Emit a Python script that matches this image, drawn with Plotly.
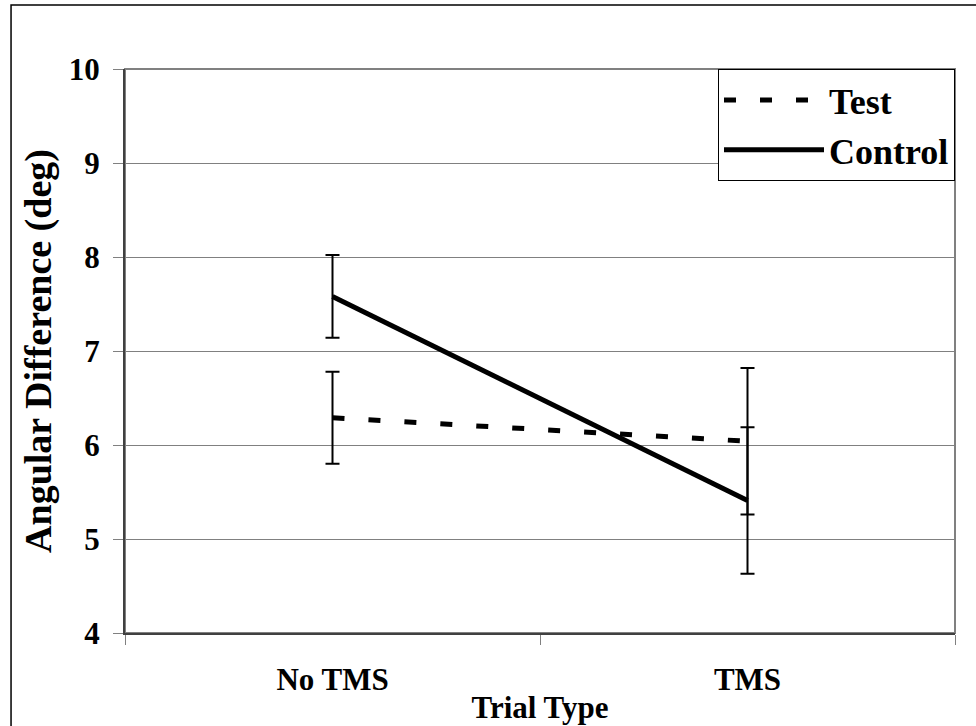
import plotly.graph_objects as go

# Trial conditions and group means (deg) with their error-bar half-widths
categories = ["No TMS", "TMS"]
test_mean = [6.29, 6.04]
test_err = [0.49, 0.78]
control_mean = [7.58, 5.41]
control_err = [0.44, 0.78]
y_ticks = [4, 5, 6, 7, 8, 9, 10]

FONT = "Liberation Serif"

fig = go.Figure()

fig.add_trace(go.Scatter(
    x=categories, y=test_mean, name="Test", mode="lines",
    line=dict(color="black", width=5, dash="12px,24px"),
    error_y=dict(type="data", array=test_err, visible=True,
                 color="black", thickness=2, width=7),
))
fig.add_trace(go.Scatter(
    x=categories, y=control_mean, name="Control", mode="lines",
    line=dict(color="black", width=5),
    error_y=dict(type="data", array=control_err, visible=True,
                 color="black", thickness=2, width=7),
))

fig.update_layout(
    width=976, height=726,
    margin=dict(l=125, r=21, t=69, b=93, autoexpand=False),
    paper_bgcolor="white", plot_bgcolor="white",
    font=dict(family=FONT, color="black", size=31, weight="bold"),
    showlegend=True,
    legend=dict(
        x=1, y=1, xanchor="right", yanchor="top",
        bgcolor="white", bordercolor="black", borderwidth=1,
        font=dict(family=FONT, size=36, weight="bold"),
        itemwidth=100, tracegroupgap=0,
    ),
    xaxis=dict(
        type="category", range=[-0.5, 1.5],
        showgrid=False, showline=True, linecolor="#404040", linewidth=2,
        ticks="outside", tickson="boundaries", ticklen=10, tickwidth=1,
        tickcolor="#808080", ticklabelstandoff=18,
        tickfont=dict(family=FONT, size=31, weight="bold"),
        title=dict(text="Trial Type", standoff=0,
                   font=dict(family=FONT, size=31, weight="bold")),
    ),
    yaxis=dict(
        range=[4, 10], tickvals=y_ticks,
        showgrid=True, gridcolor="#808080", gridwidth=1,
        showline=True, linecolor="#404040", linewidth=2,
        ticks="outside", ticklen=10, tickwidth=1, tickcolor="#808080",
        ticklabelstandoff=7,
        tickfont=dict(family=FONT, size=31, weight="bold"),
        zeroline=False,
        title=dict(text="Angular Difference (deg)", standoff=5,
                   font=dict(family=FONT, size=38, weight="bold")),
    ),
    shapes=[
        # plot-area frame
        dict(type="rect", xref="paper", yref="paper", x0=0, x1=1, y0=0, y1=1,
             line=dict(color="#808080", width=2), layer="below"),
        # chart-area frame
        dict(type="rect", xref="paper", yref="paper",
             x0=-0.1373, x1=1.2, y0=-0.3, y1=1.1135,
             line=dict(color="black", width=1.5), layer="below"),
    ],
)

fig.write_html("out.html")
